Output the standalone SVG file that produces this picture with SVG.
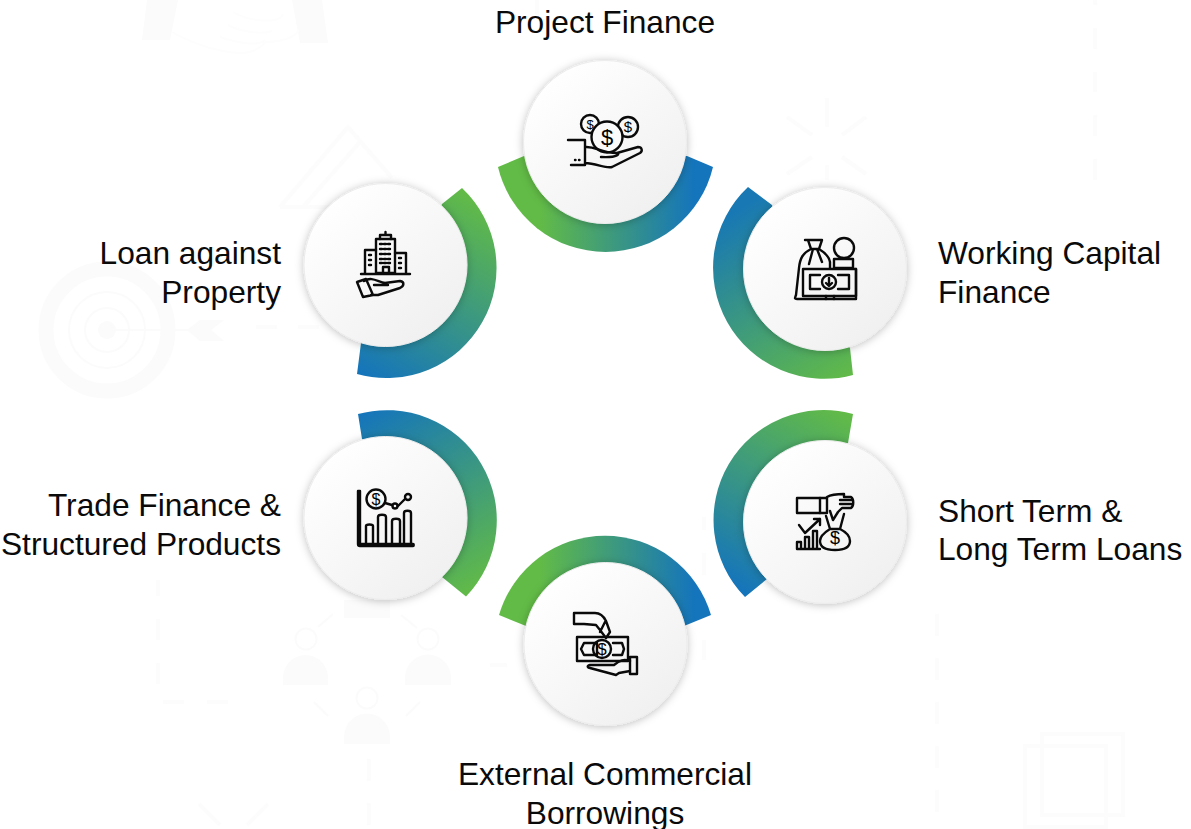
<svg xmlns="http://www.w3.org/2000/svg" width="1191" height="829" viewBox="0 0 1191 829">
<style>
.t{font-family:"Liberation Sans",Arial,sans-serif;font-size:31.7px;fill:#0a0a0a}
.c{fill:url(#cg);stroke:#ececec;stroke-width:1;filter:url(#sh)}
.i{fill:none;stroke:#0a0a0a;stroke-width:2.400;stroke-linejoin:round;stroke-linecap:round}
.it{font-family:"Liberation Sans",Arial,sans-serif;fill:#000;text-anchor:middle}
.w{fill:none;stroke:#fbfbfb;stroke-width:2}
.wf{fill:#fbfbfb;stroke:none}
.d{fill:none;stroke:#fcfcfc;stroke-width:4}
</style>
<defs>
<linearGradient id="cg" x1="0.15" y1="0.1" x2="0.85" y2="0.9"><stop offset="0" stop-color="#fff"/><stop offset="1" stop-color="#f0f0f0"/></linearGradient>
<filter id="sh" x="-20%" y="-20%" width="140%" height="140%"><feDropShadow dx="0" dy="1" stdDeviation="4" flood-color="#000" flood-opacity=".25"/></filter>
<linearGradient id="g1" gradientUnits="userSpaceOnUse" x1="540" y1="200" x2="695" y2="200"><stop offset="0" stop-color="#62bb46"/><stop offset="1" stop-color="#1474bc"/></linearGradient>
<linearGradient id="g2" gradientUnits="userSpaceOnUse" x1="745" y1="205" x2="855" y2="375"><stop offset="0" stop-color="#1878b4"/><stop offset="1" stop-color="#62bb46"/></linearGradient>
<linearGradient id="g3" gradientUnits="userSpaceOnUse" x1="470" y1="195" x2="360" y2="375"><stop offset="0" stop-color="#62bb46"/><stop offset="1" stop-color="#1474bc"/></linearGradient>
<linearGradient id="g4" gradientUnits="userSpaceOnUse" x1="360" y1="412" x2="470" y2="595"><stop offset="0" stop-color="#1474bc"/><stop offset="1" stop-color="#62bb46"/></linearGradient>
<linearGradient id="g5" gradientUnits="userSpaceOnUse" x1="850" y1="415" x2="745" y2="595"><stop offset="0" stop-color="#62bb46"/><stop offset="1" stop-color="#1474bc"/></linearGradient>
<linearGradient id="g6" gradientUnits="userSpaceOnUse" x1="540" y1="590" x2="695" y2="590"><stop offset="0" stop-color="#62bb46"/><stop offset="1" stop-color="#1474bc"/></linearGradient>
</defs>
<rect width="1191" height="829" fill="#fff"/>
<g id="watermarks">
<circle cx="107" cy="330" r="61" fill="none" stroke="#fbfbfb" stroke-width="15"/>
<circle cx="107" cy="330" r="38" class="w"/>
<circle cx="107" cy="330" r="22" class="w"/>
<circle cx="107" cy="330" r="9" class="wf"/>
<path d="M116 330H200" class="w"/>
<path d="M187 330L200 320H224L211 330L224 341H200Z" class="wf"/>
<path d="M256 327H277M298 327H319" class="d" stroke-width="3"/>
<circle cx="306" cy="639" r="10.500" class="w"/><circle cx="428" cy="639" r="10.500" class="w"/><circle cx="367" cy="698" r="10.500" class="w"/>
<path d="M318 627L333 614M401 615L417 628M314 702L328 716M420 702L406 716" class="w"/>
<path d="M283 685V678A22.500 23 0 0 1 328 678V685ZM405 685V678A22.500 23 0 0 1 451 678V685ZM344 744V737A22.500 23 0 0 1 390 737V744ZM344 618V600H390V618Z" class="wf"/>
<path d="M158 580V596M158 619V640M158 663V684M163 702H184M207 702H228M369 759V781M369 803V825" class="d"/>
<path d="M199 804L220 825M268 804L247 825" class="d"/>
<path d="M937 614V636M937 658V680M937 702V724M937 746V768M937 790V812" class="d"/>
<rect x="1042" y="734" width="81" height="81" class="d"/>
<rect x="1025" y="746" width="81" height="81" class="d"/>
<path d="M147 0L142 40H170L178 0ZM292 0L300 43H328L322 0Z" class="wf"/>
<path d="M172 32C200 48 240 58 255 50C262 46 265 44 265 42C290 42 300 32 298 30M233 12C250 22 280 24 283 14M228 25C245 34 270 34 272 30M220 37C240 44 260 46 265 40" fill="none" stroke="#fdfdfd" stroke-width="2"/>
<path d="M827 98V127M827 165V180M787 117L812 135M866 117L842 135M787 174L812 157M866 174L842 157" class="d" stroke-width="3"/>
<path d="M1095 0V5M1095 28V49M1095 72V92M1095 115V136M1095 159V180M537 0V15M704 517V530M704 553V575M704 597V618M704 640V660M490 665H507" class="d" stroke-width="3"/>
<path d="M280 207L348 127L392 178M303 207L360 142M280 207H330" class="d" stroke-width="2"/>
</g>
<g id="connectors">
<path d="M498 167A110.500 110.500 0 0 0 713 167L687 156L524 156Z" fill="url(#g1)"/>
<path d="M748 187A111 111 0 0 0 853 375L850 348L790 260L772 205Z" fill="url(#g2)"/>
<path d="M462 188A110 110 0 0 1 357 374L361 343L420 260L442 204Z" fill="url(#g3)"/>
<path d="M358 414A110 110 0 0 1 466 596.500L442 577L420 500L362 439Z" fill="url(#g4)"/>
<path d="M853 414A110 110 0 0 0 745 597L767 579L790 500L848 443Z" fill="url(#g5)"/>
<path d="M499 615A110.500 110.500 0 0 1 711 615L684 626L526 626Z" fill="url(#g6)"/>
</g>
<g id="project-finance">
<circle class="c" cx="605" cy="142" r="81.500"/>
<g class="i">
<circle cx="590" cy="124" r="9"/><circle cx="628" cy="127" r="10"/><circle cx="607" cy="137" r="15.500" fill="#fafafa"/>
<path d="M568 140H585V165H571M585 147C596 146 600 153 617 153C620 153 619 158 601 157M617 153L638 147C642 147 643 151 640 153L612 167C606 169 596 163 585 163M575 160H575.500M579 160H579.500"/>
</g>
<text class="it" x="607" y="145" font-size="22">$</text>
<text class="it" x="590" y="129" font-size="13">$</text>
<text class="it" x="628" y="132" font-size="15">$</text>
</g>
<g id="working-capital">
<circle class="c" cx="825" cy="269" r="81.500"/>
<g class="i">
<circle cx="844" cy="248" r="10"/><path d="M834 259H853V268H834Z"/>
<path d="M805 240H822L819 249C824 252 829 256 830 262V268M808 240L811 249C803 253 800 258 799 268L796 295C795 298 794 299 797 299H856V269M811 249H819M813 249L809 264M817 249L822 262"/>
<rect x="803" y="269" width="53" height="27"/>
<path d="M820 275H810V289H820M838 275H849V289H838M826 296V299M834 296V299"/>
<circle cx="829" cy="282" r="7"/><path d="M829 278V285M826 283L829 286L832 283"/>
</g>
</g>
<g id="loan-property">
<circle class="c" cx="385.500" cy="265" r="81.500"/>
<g class="i">
<rect x="376" y="239" width="19" height="34"/><path d="M380 239V235H391V239M385.500 235V232M365 274V250H376M395 253H406V274M361 274H410M383 274V267H389V274"/>
<path d="M380 244H391M380 249H391M380 254H391M380 259H391M380 263H391M369 255H373M369 260H373M369 265H373M399 258H403M399 263H403M399 268H403" stroke-dasharray="2 2"/>
<path d="M357 282L366 279L373 295L363 297ZM364 281C372 276 378 282 385 283L400 281C405 282 404 286 400 288L378 295H371M374 285H388"/>
</g>
</g>
<g id="trade-finance">
<circle class="c" cx="385.500" cy="518" r="81.500"/>
<g class="i">
<path d="M358 491V544C358 546 359 546 360 546H413C414 546 414 544 413 544H360V491Z"/>
<circle cx="376" cy="499" r="9.500"/>
<path d="M366 544V526C366 524 373 524 373 526V544M378 544V517C378 514 386 514 386 517V544M392 544V521C392 518 400 518 400 521V544M404 544V513C404 510 411 510 411 513V544M385 503L392 505M398 506L405 499"/>
<circle cx="395" cy="506" r="2.500"/><circle cx="408" cy="497" r="3"/>
</g>
<text class="it" x="376" y="505" font-size="16">$</text>
</g>
<g id="short-long">
<circle class="c" cx="825" cy="522" r="81.500"/>
<g class="i">
<rect x="797" y="498" width="30" height="15"/>
<path d="M820 498V513M827 497C832 494 840 494 844 494V497H851C854 499 854 506 851 508H842L838 512L833 520L830 511"/>
<path d="M840 500H852M840 504H852"/>
<path d="M830 529C822 534 820 538 820 541C820 547 826 550 835 550C844 550 850 547 850 541C850 536 846 532 840 529ZM830 529L826 516M840 529L844 514"/>
<path d="M799 525L805 533L820 519M814 519H820V525"/>
<path d="M797 549V542H801V549ZM805 549V537H809V549ZM813 549V531H817V549ZM797 549H820"/>
</g>
<text class="it" x="835" y="544" font-size="18">$</text>
</g>
<g id="ecb">
<circle class="c" cx="605.500" cy="644" r="81.500"/>
<g class="i">
<path d="M574 613H595C600 613 604 617 606 621L610 632L606 638L600 630L596 625L584 624H574ZM600 632L605 622"/>
<rect x="577" y="637" width="51" height="24"/>
<path d="M584 643H597V655H584L581 649ZM613 643H622L624 649L622 655H613"/>
<circle cx="602" cy="649" r="9"/>
<rect x="630" y="657" width="7" height="17"/>
<path d="M630 661C624 659 620 660 614 665H590C586 666 588 668 590 668L616 675L619 673L630 671"/>
</g>
<text class="it" x="602" y="655" font-size="17">$</text>
</g>
<g id="labels">
<text class="t" x="605" y="33" text-anchor="middle">Project Finance</text>
<text class="t" x="938" y="264">Working Capital</text>
<text class="t" x="938" y="303">Finance</text>
<text class="t" x="281" y="264" text-anchor="end">Loan against</text>
<text class="t" x="281" y="303" text-anchor="end">Property</text>
<text class="t" x="281" y="516" text-anchor="end">Trade Finance &amp;</text>
<text class="t" x="281" y="555" text-anchor="end">Structured Products</text>
<text class="t" x="938" y="522">Short Term &amp;</text>
<text class="t" x="938" y="560">Long Term Loans</text>
<text class="t" x="605" y="785" text-anchor="middle">External Commercial</text>
<text class="t" x="605" y="824" text-anchor="middle">Borrowings</text>
</g>
</svg>
